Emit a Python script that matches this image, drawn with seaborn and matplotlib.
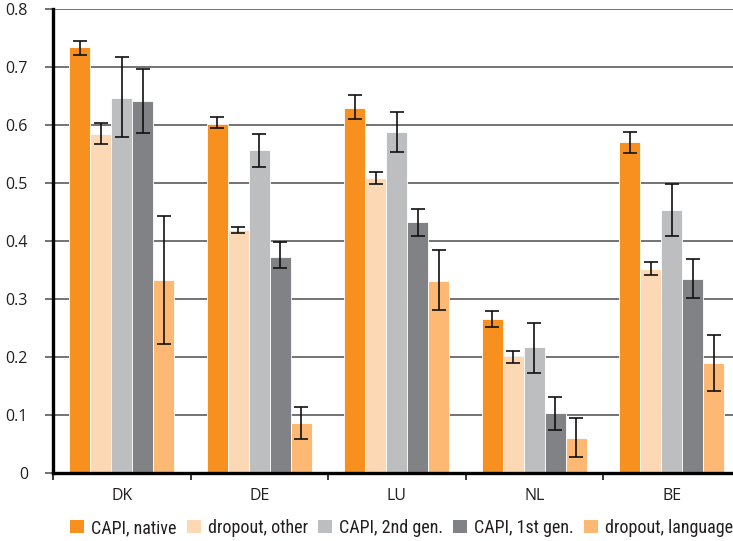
import matplotlib
matplotlib.use('Agg')
import matplotlib.pyplot as plt
import seaborn as sns
import pandas as pd
from matplotlib.ticker import FixedLocator
from matplotlib.patches import Patch
from matplotlib.font_manager import FontProperties

countries = ['DK', 'DE', 'LU', 'NL', 'BE']
series = ['CAPI, native', 'dropout, other', 'CAPI, 2nd gen.', 'CAPI, 1st gen.', 'dropout, language']
y_ticks = [0, 0.1, 0.2, 0.3, 0.4, 0.5, 0.6, 0.7, 0.8]
y_tick_labels = ['0', '0.1', '0.2', '0.3', '0.4', '0.5', '0.6', '0.7', '0.8']

capi_native = [0.734, 0.602, 0.630, 0.266, 0.571]
capi_native_lo = [0.721, 0.594, 0.611, 0.252, 0.552]
capi_native_hi = [0.745, 0.614, 0.651, 0.279, 0.588]

dropout_other = [0.585, 0.419, 0.509, 0.201, 0.352]
dropout_other_lo = [0.568, 0.413, 0.499, 0.190, 0.341]
dropout_other_hi = [0.603, 0.425, 0.519, 0.211, 0.363]

capi_2nd = [0.647, 0.557, 0.588, 0.217, 0.453]
capi_2nd_lo = [0.579, 0.528, 0.554, 0.172, 0.408]
capi_2nd_hi = [0.717, 0.585, 0.623, 0.259, 0.499]

capi_1st = [0.641, 0.373, 0.432, 0.103, 0.335]
capi_1st_lo = [0.586, 0.353, 0.409, 0.075, 0.301]
capi_1st_hi = [0.696, 0.398, 0.456, 0.131, 0.369]

dropout_lang = [0.332, 0.086, 0.331, 0.061, 0.189]
dropout_lang_lo = [0.222, 0.058, 0.281, 0.027, 0.141]
dropout_lang_hi = [0.443, 0.114, 0.384, 0.095, 0.238]

colors = ['#F7901E', '#FDD8B5', '#BCBEC0', '#808285', '#FDB874']

values = [capi_native, dropout_other, capi_2nd, capi_1st, dropout_lang]
lows = [capi_native_lo, dropout_other_lo, capi_2nd_lo, capi_1st_lo, dropout_lang_lo]
highs = [capi_native_hi, dropout_other_hi, capi_2nd_hi, capi_1st_hi, dropout_lang_hi]

rows = []
for s, vals in zip(series, values):
    for c, v in zip(countries, vals):
        rows.append({'country': c, 'series': s, 'value': v})
df = pd.DataFrame(rows)

sns.set_theme(style='white')
plt.rcParams['font.family'] = ['Roboto Condensed', 'Liberation Sans Narrow',
                               'Roboto', 'DejaVu Sans']
text_color = '#231F20'
tick_fp = FontProperties(family=['Open Sans', 'DejaVu Sans'], size=11.5)

fig = plt.figure(figsize=(7.33, 5.41), dpi=100)
ax = fig.add_axes([53 / 733, 68 / 541, 687.5 / 733, 464 / 541])

sns.barplot(data=df, x='country', y='value', hue='series', order=countries,
            hue_order=series, palette=colors, width=0.764, errorbar=None,
            edgecolor='white', linewidth=0.6, saturation=1, ax=ax)

bar_conts = list(ax.containers)
for i, cont in enumerate(bar_conts):
    xs = [b.get_x() + b.get_width() / 2 for b in cont]
    v = values[i]
    lo = [v[j] - lows[i][j] for j in range(len(v))]
    hi = [highs[i][j] - v[j] for j in range(len(v))]
    ax.errorbar(xs, v, yerr=[lo, hi], fmt='none', ecolor='#111111',
                elinewidth=1.2, capsize=4.8, capthick=1.2, zorder=5)

if ax.get_legend() is not None:
    ax.get_legend().remove()

ax.set_xlim(-0.5, 4.5)
ax.set_ylim(0, 0.8)
ax.xaxis.set_minor_locator(FixedLocator([-0.5, 0.5, 1.5, 2.5, 3.5, 4.5]))
ax.set_xticks(range(len(countries)), countries, fontproperties=tick_fp)
ax.set_yticks(y_ticks, y_tick_labels, fontproperties=tick_fp)
ax.yaxis.grid(True, color='#4d4d4d', linewidth=1.1)
ax.xaxis.grid(False)
ax.set_axisbelow(True)

for side in ['top', 'right']:
    ax.spines[side].set_visible(False)
for side in ['left', 'bottom']:
    ax.spines[side].set_color('black')
    ax.spines[side].set_linewidth(2.4)

ax.tick_params(axis='y', which='major', length=6, width=1.1, color='#4d4d4d',
               direction='out', pad=12, labelcolor=text_color, left=True)
ax.tick_params(axis='x', which='major', length=0, pad=11,
               labelcolor=text_color, bottom=True)
ax.tick_params(axis='x', which='minor', length=5, width=1.1, color='black',
               direction='out', bottom=True)
ax.set_xlabel('')
ax.set_ylabel('')

handles = [Patch(facecolor=c, edgecolor='none') for c in colors]
fig.legend(handles, series, loc='center left', bbox_to_anchor=(70 / 733, 1 - 528 / 541),
           ncol=5, frameon=False, fontsize=13, handlelength=0.78, handleheight=0.68,
           handletextpad=0.39, columnspacing=0.55, borderpad=0, borderaxespad=0,
           labelcolor=text_color)

fig.savefig('out.png', dpi=100)
